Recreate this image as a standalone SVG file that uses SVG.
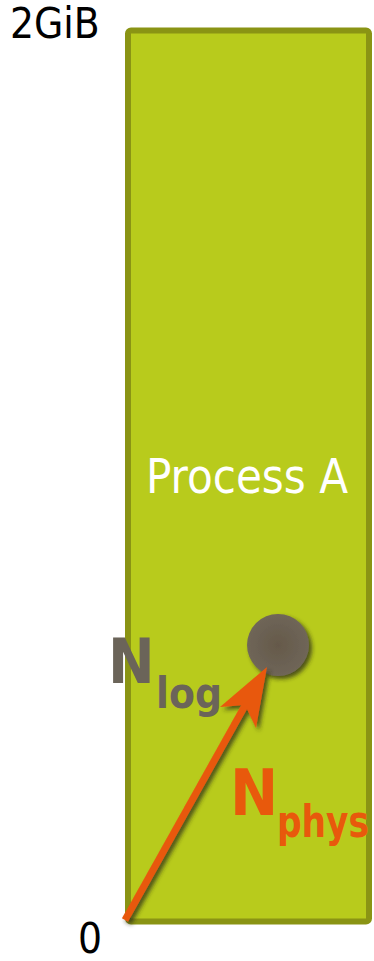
<svg xmlns="http://www.w3.org/2000/svg" width="374" height="961" viewBox="0 0 374 961">
  <style>
    .lbl { font-family: "DejaVu Sans Condensed", "DejaVu Sans", sans-serif; font-stretch: condensed; }
    .axis { font-size: 42px; fill: #000; }
    .proc { font-size: 48px; fill: #ffffff; }
    .big { font-weight: bold; }
    .gray { fill: #6b6459; }
    .orange { fill: #e8590c; }
  </style>
  <defs>
    <filter id="shadow" x="-30%" y="-30%" width="160%" height="160%">
      <feGaussianBlur in="SourceAlpha" stdDeviation="2"/>
      <feOffset dx="3" dy="3" result="b"/>
      <feFlood flood-color="#2a2a18" flood-opacity="0.75"/>
      <feComposite in2="b" operator="in"/>
      <feMerge><feMergeNode/><feMergeNode in="SourceGraphic"/></feMerge>
    </filter>
    <radialGradient id="dot" cx="50%" cy="50%" r="50%">
      <stop offset="0" stop-color="#65594a"/>
      <stop offset="1" stop-color="#6f6658"/>
    </radialGradient>
  </defs>

  <g id="process-a">
    <rect x="128" y="30.5" width="241" height="891" rx="3" fill="#b8cb1c" stroke="#8a9414" stroke-width="6"/>
    <text class="lbl proc" x="146" y="493" textLength="202" lengthAdjust="spacingAndGlyphs">Process A</text>
  </g>

  <g id="axis-labels">
    <text class="lbl axis" x="10" y="38">2GiB</text>
    <text class="lbl axis" x="90" y="953" text-anchor="middle" font-size="40">0</text>
  </g>

  <g id="n-log">
    <circle cx="278" cy="645" r="31" fill="url(#dot)" filter="url(#shadow)"/>
    <text class="lbl big gray" x="108" y="683" font-size="62">N</text>
    <text class="lbl big gray" x="156" y="708" font-size="42">log</text>
  </g>

  <g id="n-phys">
    <text class="lbl big orange" x="230" y="815" font-size="64">N</text>
    <text class="lbl big orange" x="277" y="837" font-size="44" textLength="92" lengthAdjust="spacingAndGlyphs">phys</text>
  </g>

  <g id="connectors" filter="url(#shadow)">
    <line x1="125" y1="920" x2="247" y2="702" stroke="#e8590c" stroke-width="7"/>
    <polygon points="267,667 220,707 245,705 256,728" fill="#e8590c"/>
  </g>
</svg>
